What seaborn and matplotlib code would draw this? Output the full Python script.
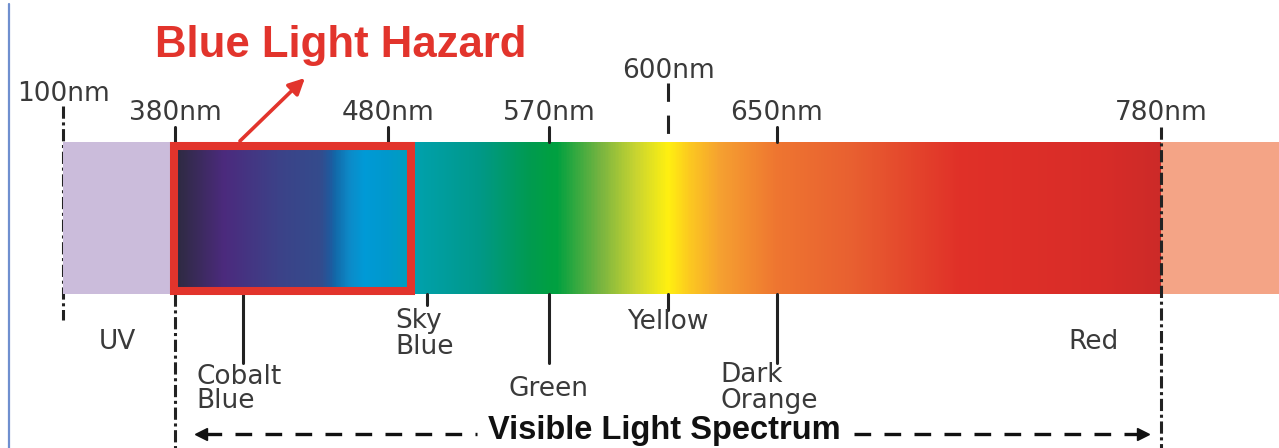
import numpy as np
import matplotlib
matplotlib.use("Agg")
import matplotlib.pyplot as plt
from matplotlib.colors import LinearSegmentedColormap
from matplotlib.patches import Rectangle
import seaborn as sns

# wavelengths marked above the band
tick_nm = [100, 380, 480, 570, 600, 650, 780]
tick_labels = ["100nm", "380nm", "480nm", "570nm", "600nm", "650nm", "780nm"]

# colour names pointed at under the band
pointer_names = ["Cobalt\nBlue", "Sky\nBlue", "Green", "Yellow", "Dark\nOrange"]
pointer_nm = [412, 502, 570, 600, 650]

# region names
region_names = ["UV", "Red"]
region_nm = [236, 757]

# colour stops of the visible band
stop_nm = [380, 382, 403, 429, 448, 453, 455, 462, 469, 479, 490, 498, 531,
           559, 572, 583, 592, 600, 610, 624, 650, 675, 712, 759, 780]
stop_colors = ["#2f2a44", "#2f2a44", "#4b2a7d", "#3b4288", "#344b8c", "#1e5a9e",
               "#1268a8", "#0c8ac8", "#009ad6", "#0098cc", "#009cc0", "#00a0aa",
               "#009888", "#009a50", "#00a040", "#78b440", "#c8d430", "#fff010",
               "#fcc820", "#f5a030", "#ee7530", "#e86030", "#e03028", "#d82c28",
               "#cc2a28"]

uv_nm = [100, 380]
ir_nm = [780, 900]
hazard_nm = [377.5, 493]

sns.set_theme(style="white")
plt.rcParams["font.family"] = ["DejaVu Sans"]

# the drawing is not linear in nm, so use a piecewise scale
knots_nm = [-57.5, 100, 380, 480, 570, 600, 650, 780, 900]
knots_px = [0, 63, 175, 388, 549, 668, 777, 1161, 1279]
fwd = lambda v: np.interp(v, knots_nm, knots_px)
inv = lambda p: np.interp(p, knots_px, knots_nm)

fig = plt.figure(figsize=(12.79, 4.48), dpi=100)
fig.patch.set_facecolor("white")
ax = fig.add_axes([0, 0, 1, 1])
ax.set_xscale("function", functions=(fwd, inv))
ax.set_xlim(knots_nm[0], knots_nm[-1])
ax.set_ylim(448, 0)
ax.axis("off")

grey = "#3a3a3a"
red = "#e2342c"
bar_top, bar_bot = 142, 294
fs = 19

# side regions
ax.fill_between(uv_nm, bar_top, bar_bot, color="#cbbcdb", lw=0, zorder=2)
ax.fill_between(ir_nm, bar_top, bar_bot, color="#f4a486", lw=0, zorder=2)

# visible gradient
pos = (np.array(stop_nm) - 380) / 400
cmap = LinearSegmentedColormap.from_list("spec", list(zip(pos, stop_colors)), N=1024)
xs = np.linspace(380, 780, 1601)
mid = (xs[:-1] + xs[1:]) / 2
ax.pcolormesh(xs, [bar_top, bar_bot], mid[None, :], cmap=cmap, vmin=380, vmax=780,
              shading="flat", zorder=2, rasterized=True)

# blue light hazard box
ax.add_patch(Rectangle((hazard_nm[0], 146), hazard_nm[1] - hazard_nm[0], 145,
                       fill=False, ec=red, lw=5.8, joinstyle="miter", zorder=4))
ax.annotate("", xy=(441, 78), xytext=(410.5, 141),
            arrowprops=dict(arrowstyle="-|>", color=red, lw=2.6, mutation_scale=24,
                            shrinkA=0, shrinkB=0), zorder=5)
ax.text(458, 45, "Blue Light Hazard", color=red, fontsize=31.5, fontweight="bold",
        family="Liberation Sans", ha="center", va="center")

dashdot = (0, (4, 1.2, 1, 1.2))
lw = 2.2
# ticks above the band
for nm, lab in zip(tick_nm, tick_labels):
    if nm == 100:
        ax.plot([nm, nm], [106, 320], color="#222", lw=lw, ls=dashdot, zorder=1)
        ty = 94
    elif nm == 600:
        ax.plot([nm, nm], [83, bar_top], color="#222", lw=lw, ls=(0, (6, 4.5)), zorder=3)
        ty = 71
    elif nm == 780:
        ax.plot([nm, nm], [127, 448], color="#222", lw=lw, ls=dashdot, zorder=5)
        ty = 113
    else:
        ax.plot([nm, nm], [127, bar_top], color="#222", lw=lw, zorder=3)
        ty = 113
    ax.text(nm, ty, lab, color=grey, fontsize=fs, ha="center", va="center")

# left edge of the visible part
ax.plot([380, 380], [bar_bot, 448], color="#222", lw=lw, ls=dashdot, zorder=3)

# pointers under the band
ends = [363, 305, 363, 310, 363]
for nm, name, end in zip(pointer_nm, pointer_names, ends):
    ax.plot([nm, nm], [bar_bot, end], color="#222", lw=lw, zorder=3)

ax.text(390, 389, pointer_names[0], color=grey, fontsize=fs, ha="left", va="center",
        linespacing=0.95)
ax.text(484, 334, pointer_names[1], color=grey, fontsize=fs, ha="left", va="center",
        linespacing=0.95)
ax.text(570, 389, pointer_names[2], color=grey, fontsize=fs, ha="center", va="center")
ax.text(600, 322, pointer_names[3], color=grey, fontsize=fs, ha="center", va="center")
ax.text(624, 388, pointer_names[4], color=grey, fontsize=fs, ha="left", va="center",
        linespacing=0.95)

for nm, name in zip(region_nm, region_names):
    ax.text(nm, 342, name, color=grey, fontsize=fs, ha="center", va="center")

# visible light spectrum span
ax.text(599, 430, "Visible Light Spectrum", color="#111", fontsize=23.5,
        fontweight="bold", family="Liberation Sans", ha="center", va="center")
ax.plot([394, 530], [434, 434], color="#111", lw=2.4, ls=(0, (5, 4)))
ax.plot([392], [434], marker="<", color="#111", ms=9)
ax.plot([676, 772], [434, 434], color="#111", lw=2.4, ls=(0, (5, 4)))
ax.plot([774], [434], marker=">", color="#111", ms=9)

# frame line at the left edge
ax.plot([inv(9), inv(9)], [4, 448], color="#6f8fcf", lw=1.6)

fig.savefig("out.png", dpi=100, facecolor="white")
